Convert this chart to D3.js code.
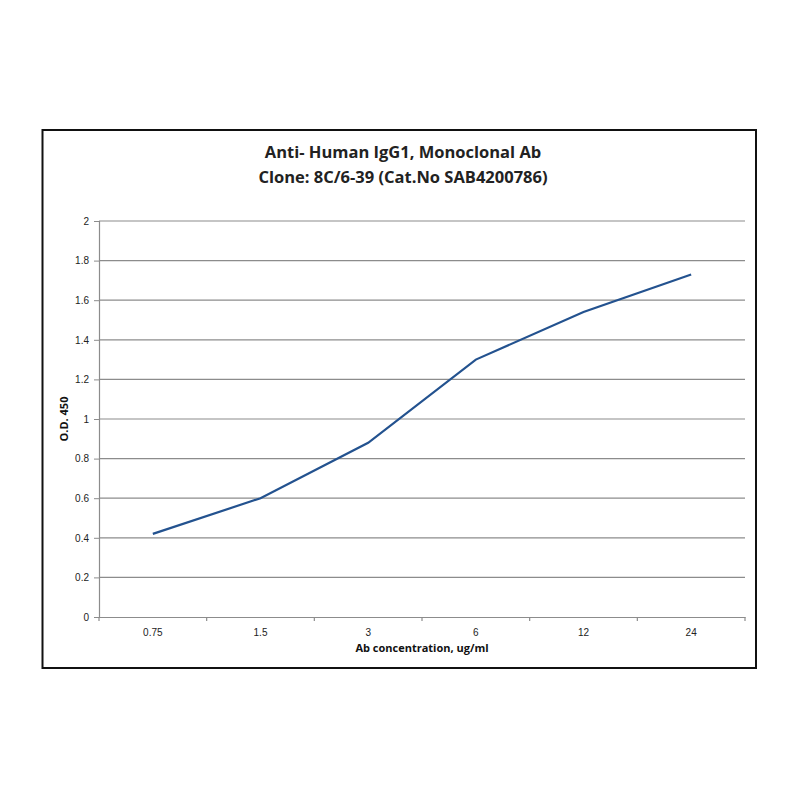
<!DOCTYPE html>
<html><head><meta charset="utf-8">
<script src="https://cdn.jsdelivr.net/npm/d3@7"></script>
<style>body{margin:0;background:#fff}</style>
</head><body>
<svg id="c" width="800" height="800"></svg>
<script>
const titleLines = ["Anti- Human IgG1, Monoclonal Ab", "Clone: 8C/6-39 (Cat.No SAB4200786)"];
const categories = ["0.75", "1.5", "3", "6", "12", "24"];
const odValues = [0.42, 0.60, 0.88, 1.30, 1.54, 1.73];
const yTicks = [0, 0.2, 0.4, 0.6, 0.8, 1, 1.2, 1.4, 1.6, 1.8, 2];
const xTitle = "Ab concentration, ug/ml";
const yTitle = "O.D. 450";

const svg = d3.select("#c");
const L = 99, R = 745, T = 221, B = 617;

svg.append("rect").attr("x", 42.5).attr("y", 130).attr("width", 713.5).attr("height", 538)
  .attr("fill", "#fff").attr("stroke", "#111").attr("stroke-width", 2);

const x = d3.scaleBand().domain(categories).range([L, R]).padding(0);
const y = d3.scaleLinear().domain([0, 2]).range([B, T]);

// gridlines
svg.append("g").selectAll("line").data(yTicks.filter(d => d > 0)).join("line")
  .attr("x1", L).attr("x2", R).attr("y1", d => y(d)).attr("y2", d => y(d))
  .attr("stroke", "#8c8c8c").attr("stroke-width", 1.2);

// y axis
const yAx = svg.append("g").attr("transform", `translate(${L},0)`)
  .call(d3.axisLeft(y).tickValues(yTicks).tickSize(5).tickPadding(5).tickFormat(d3.format("~g")));
yAx.select(".domain").attr("stroke", "#8c8c8c").attr("stroke-width", 1.2);
yAx.selectAll(".tick line").attr("stroke", "#8c8c8c");
yAx.selectAll("text").attr("font-family", "Liberation Sans, Arial, sans-serif").attr("font-size", 10).attr("fill", "#222");

// x axis
const xAx = svg.append("g").attr("transform", `translate(0,${B})`)
  .call(d3.axisBottom(x).tickSize(0).tickPadding(12));
xAx.select(".domain").attr("stroke", "#8c8c8c").attr("stroke-width", 1.2);
xAx.selectAll("text").attr("font-family", "Liberation Sans, Arial, sans-serif").attr("font-size", 10).attr("fill", "#222");
// category boundary ticks
const bounds = categories.map(c => x(c)).concat([x(categories[categories.length - 1]) + x.bandwidth()]);
svg.append("g").selectAll("line").data(bounds).join("line")
  .attr("x1", d => d).attr("x2", d => d).attr("y1", B).attr("y2", B + 4)
  .attr("stroke", "#8c8c8c").attr("stroke-width", 1.2);

// line
const line = d3.line().x((d, i) => x(categories[i]) + x.bandwidth() / 2).y(d => y(d));
svg.append("path").datum(odValues).attr("d", line)
  .attr("fill", "none").attr("stroke", "#23528f").attr("stroke-width", 2.2);

// title
svg.append("g").selectAll("text").data(titleLines).join("text")
  .attr("x", 403).attr("y", (d, i) => 158 + i * 25)
  .attr("text-anchor", "middle").attr("font-family", "Open Sans, sans-serif")
  .attr("font-weight", "bold").attr("font-size", 16.5).attr("fill", "#222").text(d => d);

svg.append("text").attr("x", (L + R) / 2).attr("y", 652).attr("text-anchor", "middle")
  .attr("font-family", "Open Sans, sans-serif").attr("font-weight", "bold").attr("font-size", 11)
  .attr("fill", "#111").text(xTitle);

svg.append("text").attr("transform", `translate(68,${(T + B) / 2}) rotate(-90)`).attr("text-anchor", "middle")
  .attr("font-family", "Open Sans, sans-serif").attr("font-weight", "bold").attr("font-size", 11)
  .attr("fill", "#111").text(yTitle);
</script>
</body></html>
